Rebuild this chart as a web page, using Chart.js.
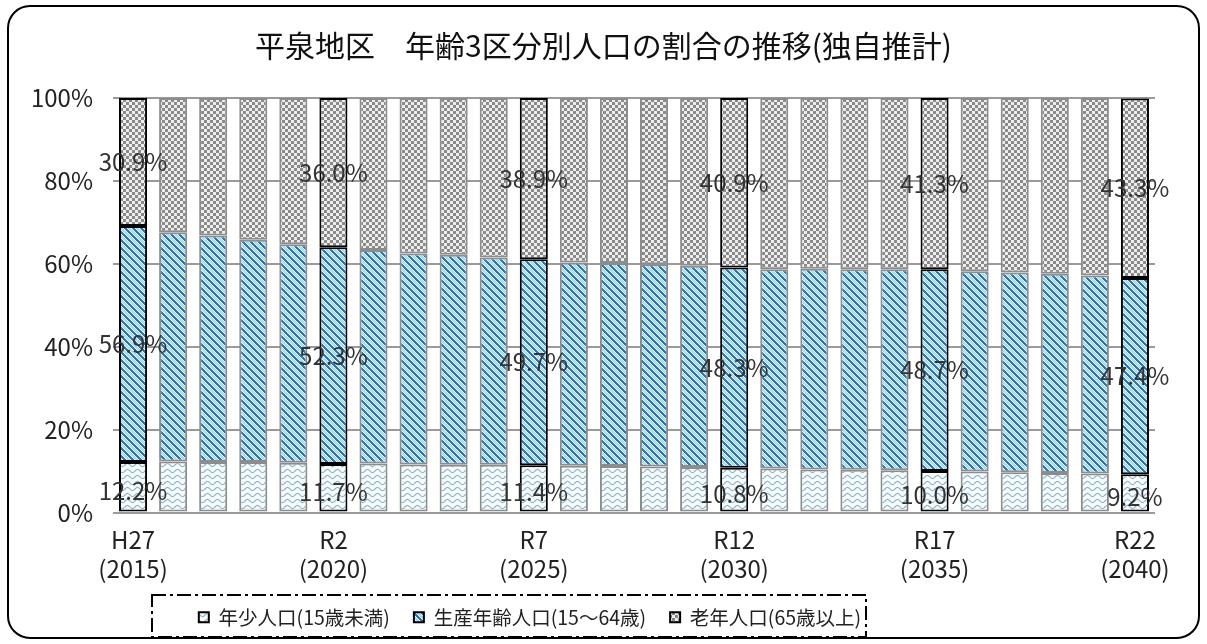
<!DOCTYPE html>
<html lang="ja">
<head>
<meta charset="utf-8">
<script src="https://cdn.jsdelivr.net/npm/chart.js@4.4.1/dist/chart.umd.min.js"></script>
<style>
  html, body { margin: 0; padding: 0; background: #fff; }
  #wrap { position: relative; width: 1207px; height: 644px; }
</style>
</head>
<body>
<div id="wrap"><canvas id="myChart"></canvas></div>
<script>
// データ（2015〜2040年、各年の割合 %）
var years = ['2015', '2016', '2017', '2018', '2019', '2020', '2021', '2022', '2023', '2024',
             '2025', '2026', '2027', '2028', '2029', '2030', '2031', '2032', '2033', '2034',
             '2035', '2036', '2037', '2038', '2039', '2040'];
var eraLabels = ['H27', 'R2', 'R7', 'R12', 'R17', 'R22'];

var youngData = [12.2, 12.3, 12.2, 12.2, 12.0, 11.7, 11.8, 11.6, 11.5, 11.5,
                 11.4, 11.3, 11.2, 11.1, 11.0, 10.8, 10.6, 10.4, 10.3, 10.2,
                 10.0, 9.9, 9.7, 9.5, 9.4, 9.2];
var workingData = [56.9, 55.3, 54.6, 53.6, 52.7, 52.3, 51.5, 50.9, 50.7, 50.0,
                   49.7, 49.0, 49.0, 48.8, 48.5, 48.3, 48.1, 48.4, 48.4, 48.5,
                   48.7, 48.3, 48.2, 48.1, 47.8, 47.4];
var elderlyData = [30.9, 32.4, 33.2, 34.2, 35.3, 36.0, 36.7, 37.5, 37.8, 38.5,
                   38.9, 39.7, 39.8, 40.1, 40.5, 40.9, 41.3, 41.2, 41.3, 41.3,
                   41.3, 41.8, 42.1, 42.4, 42.8, 43.3];

var seriesNames = ['年少人口(15歳未満)', '生産年齢人口(15～64歳)', '老年人口(65歳以上)'];
var titleText = '平泉地区　年齢3区分別人口の割合の推移(独自推計)';

var FONT = '"Noto Sans CJK JP", "Noto Sans", sans-serif';

// 模様（パターン）を作る
function makePattern(w, h, draw) {
    var c = document.createElement('canvas');
    c.width = w; c.height = h;
    var g = c.getContext('2d');
    draw(g, w, h);
    return g.createPattern(c, 'repeat');
}

// 年少: 波線
var wavePattern = makePattern(10, 6, function (g, w, h) {
    g.fillStyle = '#f6fbfd';
    g.fillRect(0, 0, w, h);
    g.strokeStyle = '#8fb2c4';
    g.lineWidth = 1.1;
    g.beginPath();
    for (var x = 0; x <= w; x += 0.5) {
        var y = 3 + 1.6 * Math.sin(2 * Math.PI * x / w);
        if (x === 0) g.moveTo(x, y); else g.lineTo(x, y);
    }
    g.stroke();
});

// 生産年齢: 斜線
var stripePattern = makePattern(8, 8, function (g, w, h) {
    for (var y = 0; y < h; y++) {
        for (var x = 0; x < w; x++) {
            var d = ((x - y) % 8 + 8) % 8;
            if (d <= 2) g.fillStyle = '#2a78b6';
            else if (d === 3 || d === 7) g.fillStyle = '#ffffff';
            else g.fillStyle = '#a3def2';
            g.fillRect(x, y, 1, 1);
        }
    }
});

// 老年: 市松模様
var checkPattern = makePattern(6, 6, function (g, w, h) {
    g.fillStyle = '#eeeeee';
    g.fillRect(0, 0, w, h);
    g.fillStyle = '#8a8a8a';
    g.fillRect(0, 0, 3, 3);
    g.fillRect(3, 3, 3, 3);
});

function edgeColor(ctx) {
    return (ctx.dataIndex % 5 === 0) ? '#000000' : '#8c8c8c';
}

// 外枠とタイトル
var framePlugin = {
    id: 'frame',
    beforeDraw: function (chart) {
        var c = chart.ctx;
        c.save();
        c.fillStyle = '#ffffff';
        c.fillRect(0, 0, chart.width, chart.height);
        c.strokeStyle = '#000';
        c.lineWidth = 2;
        c.beginPath();
        c.roundRect(8, 6, chart.width - 16, chart.height - 12, 22);
        c.stroke();
        c.fillStyle = '#111';
        c.font = '30px ' + FONT;
        c.textAlign = 'center';
        c.textBaseline = 'middle';
        c.fillText(titleText, chart.width / 2, 46);
        c.restore();
    }
};

// 5年ごとの割合ラベル
var valueLabelPlugin = {
    id: 'valueLabels',
    afterDatasetsDraw: function (chart) {
        var c = chart.ctx;
        c.save();
        c.font = '24px ' + FONT;
        c.fillStyle = '#333';
        c.textAlign = 'center';
        c.textBaseline = 'middle';
        chart.data.datasets.forEach(function (ds, di) {
            var meta = chart.getDatasetMeta(di);
            meta.data.forEach(function (el, i) {
                if (i % 5 !== 0) return;
                var yMid = (el.y + el.base) / 2;
                c.fillText(ds.data[i].toFixed(1) + '%', el.x, yMid + (di === 0 ? 4 : 0));
            });
        });
        c.restore();
    }
};

// 凡例の位置調整と一点鎖線の枠
var legendBoxPlugin = {
    id: 'legendBox',
    afterLayout: function (chart) {
        var lg = chart.legend;
        lg.left = 0;
        lg.right = 1060;
        lg.width = 1060;
        lg.adjustHitBoxes();
    },
    afterDraw: function (chart) {
        var c = chart.ctx;
        c.save();
        c.strokeStyle = '#000';
        c.lineWidth = 2;
        c.setLineDash([14, 4, 3, 4]);
        c.strokeRect(152, 595, 714, 42);
        c.restore();
    }
};

var ctx = document.getElementById('myChart').getContext('2d');
var myChart = new Chart(ctx, {
    type: 'bar',
    data: {
        labels: years,
        datasets: [{
            label: seriesNames[0],
            data: youngData,
            backgroundColor: wavePattern,
            borderColor: edgeColor,
            borderWidth: 2,
            borderSkipped: false
        }, {
            label: seriesNames[1],
            data: workingData,
            backgroundColor: stripePattern,
            borderColor: edgeColor,
            borderWidth: 2,
            borderSkipped: false
        }, {
            label: seriesNames[2],
            data: elderlyData,
            backgroundColor: checkPattern,
            borderColor: edgeColor,
            borderWidth: 2,
            borderSkipped: false
        }]
    },
    options: {
        responsive: true,
        maintainAspectRatio: false,
        animation: false,
        layout: { padding: { left: 10, right: 52, top: 98, bottom: 7 } },
        datasets: { bar: { barPercentage: 0.7, categoryPercentage: 1.0 } },
        plugins: {
            title: { display: false },
            tooltip: { enabled: false },
            legend: {
                position: 'bottom',
                labels: {
                    boxWidth: 10,
                    boxHeight: 10,
                    padding: 24,
                    color: '#222',
                    font: { family: FONT, size: 19.5 }
                }
            }
        },
        scales: {
            x: {
                stacked: true,
                grid: { display: false },
                border: { display: false },
                afterFit: function (s) { s.height = 71; },
                ticks: {
                    autoSkip: false,
                    maxRotation: 0,
                    padding: 5,
                    color: '#222',
                    font: { family: FONT, size: 24, lineHeight: 1.2 },
                    callback: function (v, i) {
                        return i % 5 === 0 ? [eraLabels[i / 5], '(' + years[i] + ')'] : '';
                    }
                }
            },
            y: {
                stacked: true,
                min: 0,
                max: 100,
                afterFit: function (s) { s.width = 103; },
                border: { display: false },
                grid: { color: '#9a9a9a', lineWidth: 2, drawTicks: false },
                ticks: {
                    stepSize: 20,
                    padding: 20,
                    color: '#222',
                    font: { family: FONT, size: 24 },
                    callback: function (v) { return v + '%'; }
                }
            }
        }
    },
    plugins: [framePlugin, valueLabelPlugin, legendBoxPlugin]
});
</script>
</body>
</html>
